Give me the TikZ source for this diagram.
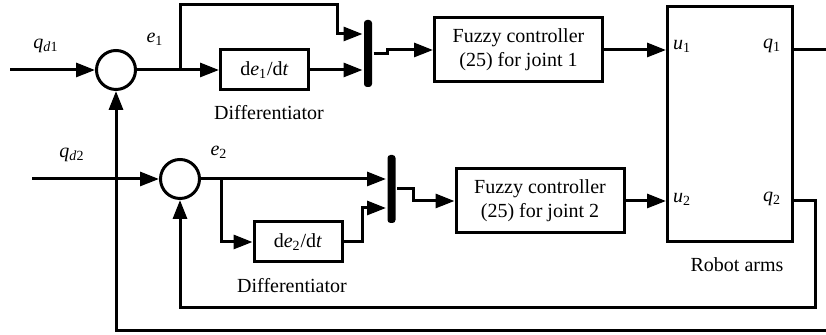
\documentclass[tikz,border=0pt]{standalone}
\usepackage{fontspec}
\setmainfont{Liberation Serif}
\usepackage{tikz}
\usetikzlibrary{arrows.meta}

\begin{document}
\begin{tikzpicture}[x=0.5pt, y=0.5pt, line width=1.5pt,
  >={Triangle[length=9.5pt,width=7pt]},
  sum/.style={draw, circle, minimum size=19.5pt, inner sep=0pt},
  block/.style={draw, rectangle, inner sep=0pt, align=center},
  bar/.style={fill, rounded corners=1.5pt, minimum width=4pt, inner sep=0pt}]
  \useasboundingbox (0,0) rectangle (826,335);
  % summing points and blocks
  \node[sum] (s1) at (116,265) {};
  \node[sum] (s2) at (180,156) {};
  \node[block, minimum width=44pt, minimum height=20pt] (d1) at (264.5,265) {d\textit{e}\textsubscript{1}/d\textit{t}};
  \node[block, minimum width=44pt, minimum height=20pt] (d2) at (298,93) {d\textit{e}\textsubscript{2}/d\textit{t}};
  \node[bar, minimum height=33.5pt] (m1) at (368,281.5) {};
  \node[bar, minimum height=34pt] (m2) at (391.5,146) {};
  \node[block, minimum width=84pt, minimum height=32pt] (f1) at (518.5,285) {Fuzzy controller\\(25) for joint~1};
  \node[block, minimum width=84pt, minimum height=32pt] (f2) at (540,134) {Fuzzy controller\\(25) for joint~2};
  \node[block, minimum width=62.5pt, minimum height=117.5pt] (r) at (730,211) {};
  % labels
  \node (qd1) at (46,289) {\textit{q}\textsubscript{\textit{d}1}};
  \node (qd2) at (72,180) {\textit{q}\textsubscript{\textit{d}2}};
  \node (e1) at (155,296) {\textit{e}\textsubscript{1}};
  \node (e2) at (219,183) {\textit{e}\textsubscript{2}};
  \node (dl1) at (269,222) {Differentiator};
  \node (dl2) at (292,49) {Differentiator};
  \node (u1) at (682,289) {\textit{u}\textsubscript{1}};
  \node (q1) at (772,289) {\textit{q}\textsubscript{1}};
  \node (u2) at (682,136) {\textit{u}\textsubscript{2}};
  \node (q2) at (772,136) {\textit{q}\textsubscript{2}};
  \node (ra) at (737,70) {Robot arms};
  % free ends and branch points
  \coordinate (in1) at (10,265);
  \coordinate (in2) at (32,156);
  \coordinate (b1) at (180,265);
  \coordinate (b2) at (221,156);
  \coordinate (t1) at (0,301);
  \coordinate (t2) at (0,127);
  % joint 1
  \draw[->] (in1) -- (s1);
  \draw (s1) -- (b1);
  \draw[->] (b1) -- (d1);
  \draw[->] (b1) |- (337,330) |- (m1.west |- t1);
  \draw[->] (d1) -- (d1 -| m1.west);
  \draw[->] (m1.east) -- (387,281.5) |- (f1.west);
  \draw[->] (f1) -- (f1 -| r.west);
  \draw[->] (r.east |- f1) -- (830,285) |- (116,4) -- (s1);
  % joint 2
  \draw[->] (in2) -- (s2);
  \draw[->] (s2) -- (s2 -| m2.west);
  \draw[->] (b2) |- (d2);
  \draw[->] (d2) -- (362,93) |- (m2.west |- t2);
  \draw[->] (m2.east) -- (413,146) |- (f2.west);
  \draw[->] (f2) -- (f2 -| r.west);
  \draw[->] (r.east |- f2) -- (815,134) |- (180,27) -- (s2);
\end{tikzpicture}
\end{document}
